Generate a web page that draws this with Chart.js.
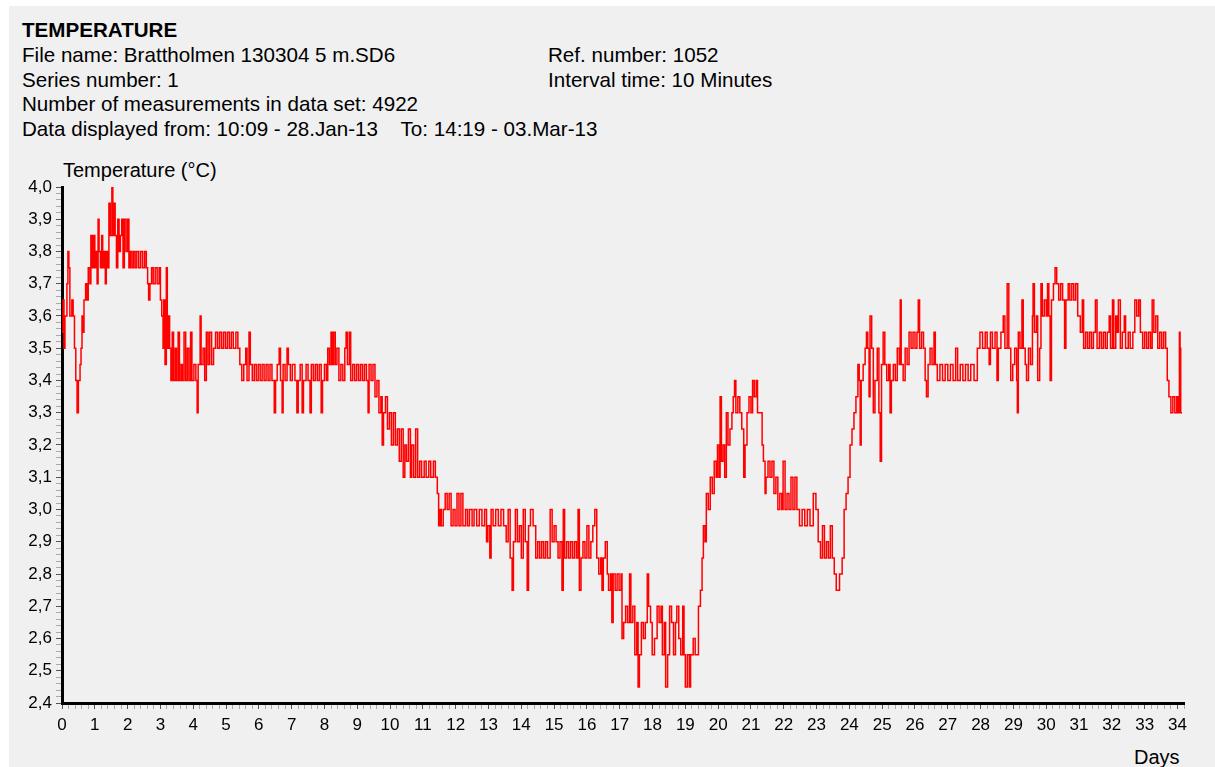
<!DOCTYPE html>
<html>
<head>
<meta charset="utf-8">
<title>Temperature</title>
<script src="https://cdn.jsdelivr.net/npm/chart.js@4.4.1/dist/chart.umd.min.js"></script>
<style>
    body { margin: 0; background: #fff; font-family: "Liberation Sans", Arial, sans-serif; }
    #panel { position: absolute; left: 9px; top: 6px; width: 1206px; height: 761px; background: #f0f0f0; }
    #wrap { position: absolute; left: 0; top: 0; width: 1215px; height: 767px; }
    .txt { position: absolute; font-size: 20.6px; line-height: 1; color: #000; white-space: nowrap; }
</style>
</head>
<body>
<div id="panel"></div>
<div class="txt" style="left:22px;top:20px;font-weight:bold;">TEMPERATURE</div>
<div class="txt" style="left:22px;top:45px;">File name: Brattholmen 130304 5 m.SD6</div>
<div class="txt" style="left:548px;top:45px;">Ref. number: 1052</div>
<div class="txt" style="left:22px;top:70px;">Series number: 1</div>
<div class="txt" style="left:548px;top:70px;">Interval time: 10 Minutes</div>
<div class="txt" style="left:22px;top:94px;">Number of measurements in data set: 4922</div>
<div class="txt" style="left:22px;top:119px;">Data displayed from: 10:09 - 28.Jan-13&nbsp;&nbsp;&nbsp; To: 14:19 - 03.Mar-13</div>
<div class="txt" style="left:63px;top:160px;font-size:20px;">Temperature (°C)</div>
<div class="txt" style="left:1134px;top:747px;font-size:20px;">Days</div>
<div id="wrap"><canvas id="tempPlot" width="1215" height="767"></canvas></div>

<script>
// Days since start of logging
var days = [
    0.00, 0.03, 0.06, 0.09, 0.15, 0.18, 0.21, 0.24, 0.30, 0.34,
    0.38, 0.42, 0.46, 0.50, 0.55, 0.58, 0.61, 0.64, 0.67, 0.72,
    0.76, 0.80, 0.85, 0.88, 0.92, 0.96, 1.00, 1.04, 1.07, 1.10,
    1.13, 1.17, 1.21, 1.24, 1.28, 1.32, 1.35, 1.39, 1.43, 1.47,
    1.52, 1.55, 1.59, 1.62, 1.66, 1.70, 1.74, 1.78, 1.82, 1.86,
    1.90, 1.95, 2.00, 2.04, 2.08, 2.13, 2.18, 2.23, 2.28, 2.34,
    2.40, 2.46, 2.52, 2.57, 2.61, 2.64, 2.68, 2.73, 2.78, 2.84,
    2.90, 2.96, 3.00, 3.04, 3.08, 3.10, 3.14, 3.18, 3.21, 3.25,
    3.28, 3.32, 3.36, 3.40, 3.45, 3.49, 3.54, 3.58, 3.63, 3.67,
    3.72, 3.77, 3.82, 3.87, 3.92, 3.96, 4.02, 4.08, 4.12, 4.15,
    4.21, 4.24, 4.30, 4.35, 4.40, 4.45, 4.50, 4.56, 4.62, 4.68,
    4.74, 4.80, 4.86, 4.92, 4.98, 5.04, 5.10, 5.16, 5.22, 5.30,
    5.36, 5.42, 5.48, 5.54, 5.60, 5.64, 5.70, 5.74, 5.80, 5.86,
    5.92, 5.98, 6.04, 6.10, 6.16, 6.22, 6.28, 6.34, 6.40, 6.47,
    6.51, 6.56, 6.62, 6.66, 6.71, 6.74, 6.80, 6.86, 6.90, 6.96,
    7.02, 7.10, 7.16, 7.20, 7.26, 7.32, 7.36, 7.44, 7.50, 7.56,
    7.60, 7.66, 7.72, 7.78, 7.84, 7.90, 7.94, 8.00, 8.06, 8.10,
    8.15, 8.20, 8.24, 8.28, 8.33, 8.38, 8.44, 8.50, 8.56, 8.62,
    8.66, 8.70, 8.76, 8.80, 8.86, 8.92, 8.98, 9.04, 9.10, 9.16,
    9.22, 9.28, 9.33, 9.36, 9.42, 9.48, 9.54, 9.60, 9.66, 9.72,
    9.76, 9.80, 9.86, 9.92, 9.98, 10.04, 10.10, 10.16, 10.22, 10.28,
    10.34, 10.40, 10.45, 10.50, 10.56, 10.62, 10.66, 10.72, 10.78, 10.84,
    10.90, 10.96, 11.04, 11.10, 11.18, 11.24, 11.32, 11.38, 11.44, 11.48,
    11.52, 11.56, 11.62, 11.68, 11.74, 11.80, 11.86, 11.92, 11.98, 12.04,
    12.10, 12.16, 12.22, 12.30, 12.36, 12.42, 12.50, 12.56, 12.64, 12.72,
    12.80, 12.88, 12.94, 12.98, 13.04, 13.08, 13.14, 13.22, 13.30, 13.38,
    13.46, 13.54, 13.60, 13.66, 13.72, 13.76, 13.82, 13.88, 13.94, 14.00,
    14.06, 14.12, 14.18, 14.22, 14.28, 14.36, 14.44, 14.50, 14.56, 14.62,
    14.68, 14.74, 14.80, 14.88, 14.94, 15.00, 15.06, 15.12, 15.18, 15.24,
    15.28, 15.32, 15.38, 15.44, 15.50, 15.56, 15.62, 15.68, 15.73, 15.77,
    15.82, 15.88, 15.94, 16.00, 16.06, 16.12, 16.18, 16.24, 16.30, 16.36,
    16.42, 16.46, 16.50, 16.56, 16.62, 16.66, 16.72, 16.76, 16.80, 16.86,
    16.92, 16.98, 17.04, 17.07, 17.12, 17.18, 17.24, 17.30, 17.34, 17.40,
    17.46, 17.52, 17.56, 17.60, 17.66, 17.72, 17.78, 17.84, 17.88, 17.94,
    17.99, 18.06, 18.14, 18.20, 18.26, 18.30, 18.36, 18.40, 18.46, 18.52,
    18.58, 18.64, 18.70, 18.74, 18.80, 18.86, 18.92, 18.96, 19.00, 19.06,
    19.12, 19.16, 19.24, 19.30, 19.40, 19.46, 19.51, 19.55, 19.60, 19.64,
    19.70, 19.76, 19.82, 19.88, 19.94, 19.98, 20.03, 20.06, 20.10, 20.15,
    20.20, 20.25, 20.30, 20.36, 20.42, 20.46, 20.50, 20.54, 20.60, 20.66,
    20.72, 20.78, 20.82, 20.88, 20.94, 21.00, 21.05, 21.10, 21.16, 21.20,
    21.28, 21.34, 21.38, 21.43, 21.46, 21.52, 21.58, 21.64, 21.70, 21.76,
    21.82, 21.88, 21.94, 21.98, 22.04, 22.10, 22.16, 22.22, 22.28, 22.34,
    22.40, 22.48, 22.56, 22.64, 22.72, 22.80, 22.90, 22.98, 23.05, 23.12,
    23.18, 23.24, 23.30, 23.36, 23.42, 23.48, 23.54, 23.60, 23.70, 23.78,
    23.84, 23.90, 23.96, 24.02, 24.08, 24.14, 24.20, 24.26, 24.30, 24.33,
    24.36, 24.42, 24.48, 24.52, 24.56, 24.60, 24.63, 24.68, 24.73, 24.78,
    24.85, 24.90, 24.94, 24.98, 25.03, 25.08, 25.14, 25.20, 25.24, 25.28,
    25.34, 25.40, 25.46, 25.52, 25.55, 25.58, 25.64, 25.70, 25.76, 25.82,
    25.88, 25.94, 26.00, 26.06, 26.10, 26.14, 26.20, 26.26, 26.31, 26.35,
    26.40, 26.46, 26.52, 26.58, 26.62, 26.68, 26.76, 26.84, 26.92, 27.00,
    27.08, 27.16, 27.24, 27.30, 27.38, 27.46, 27.54, 27.62, 27.70, 27.80,
    27.90, 27.98, 28.06, 28.14, 28.20, 28.26, 28.30, 28.36, 28.44, 28.50,
    28.54, 28.62, 28.69, 28.74, 28.81, 28.86, 28.92, 28.98, 29.04, 29.10,
    29.12, 29.15, 29.20, 29.26, 29.30, 29.36, 29.40, 29.46, 29.52, 29.58,
    29.60, 29.64, 29.70, 29.74, 29.80, 29.84, 29.88, 29.94, 30.00, 30.04,
    30.08, 30.12, 30.16, 30.22, 30.27, 30.32, 30.38, 30.44, 30.50, 30.56,
    30.60, 30.67, 30.72, 30.78, 30.84, 30.90, 30.96, 31.04, 31.10, 31.14,
    31.20, 31.26, 31.32, 31.38, 31.44, 31.50, 31.55, 31.62, 31.68, 31.74,
    31.80, 31.86, 31.92, 31.96, 32.02, 32.06, 32.12, 32.16, 32.20, 32.26,
    32.32, 32.38, 32.42, 32.50, 32.56, 32.64, 32.70, 32.76, 32.82, 32.87,
    32.94, 33.00, 33.06, 33.12, 33.18, 33.23, 33.28, 33.34, 33.40, 33.46,
    33.52, 33.58, 33.64, 33.69, 33.74, 33.80, 33.86, 33.92, 33.98, 34.02,
    34.06, 34.08, 34.10, 34.14
];

// Temperature readings (°C), one per entry in days
var temps = [
    3.55, 3.65, 3.5, 3.6, 3.7, 3.8, 3.75, 3.6, 3.65, 3.6,
    3.5, 3.4, 3.3, 3.4, 3.45, 3.5, 3.6, 3.55, 3.65, 3.7,
    3.65, 3.75, 3.7, 3.85, 3.75, 3.85, 3.75, 3.8, 3.7, 3.9,
    3.8, 3.75, 3.85, 3.75, 3.8, 3.7, 3.8, 3.75, 3.95, 3.85,
    4.0, 3.85, 3.95, 3.85, 3.75, 3.9, 3.8, 3.85, 3.9, 3.75,
    3.9, 3.8, 3.9, 3.75, 3.8, 3.75, 3.8, 3.75, 3.8, 3.75,
    3.8, 3.75, 3.8, 3.75, 3.7, 3.65, 3.7, 3.75, 3.7, 3.75,
    3.7, 3.75, 3.65, 3.6, 3.5, 3.65, 3.45, 3.75, 3.5, 3.6,
    3.5, 3.4, 3.55, 3.4, 3.5, 3.4, 3.55, 3.4, 3.45, 3.4,
    3.55, 3.4, 3.5, 3.4, 3.55, 3.4, 3.45, 3.4, 3.3, 3.45,
    3.6, 3.45, 3.5, 3.4, 3.55, 3.45, 3.55, 3.45, 3.5, 3.55,
    3.5, 3.55, 3.5, 3.55, 3.5, 3.55, 3.5, 3.55, 3.5, 3.55,
    3.5, 3.45, 3.4, 3.45, 3.5, 3.4, 3.55, 3.45, 3.4, 3.45,
    3.4, 3.45, 3.4, 3.45, 3.4, 3.45, 3.4, 3.45, 3.4, 3.3,
    3.4, 3.45, 3.5, 3.4, 3.3, 3.45, 3.4, 3.5, 3.45, 3.4,
    3.45, 3.4, 3.3, 3.4, 3.45, 3.3, 3.4, 3.45, 3.4, 3.3,
    3.45, 3.4, 3.45, 3.4, 3.45, 3.3, 3.4, 3.45, 3.4, 3.5,
    3.45, 3.55, 3.45, 3.55, 3.45, 3.5, 3.4, 3.45, 3.4, 3.5,
    3.55, 3.45, 3.55, 3.4, 3.45, 3.4, 3.45, 3.4, 3.45, 3.4,
    3.45, 3.4, 3.3, 3.45, 3.4, 3.45, 3.35, 3.4, 3.3, 3.35,
    3.2, 3.3, 3.35, 3.25, 3.3, 3.2, 3.3, 3.2, 3.25, 3.15,
    3.25, 3.1, 3.2, 3.15, 3.25, 3.1, 3.2, 3.1, 3.25, 3.1,
    3.15, 3.1, 3.15, 3.1, 3.15, 3.1, 3.15, 3.1, 3.05, 2.95,
    3.0, 2.95, 3.0, 3.05, 3.0, 3.05, 2.95, 3.0, 2.95, 3.05,
    2.95, 3.05, 2.95, 3.0, 2.95, 3.0, 2.95, 3.0, 2.95, 3.0,
    2.95, 3.0, 2.9, 2.95, 2.85, 3.0, 2.95, 3.0, 2.95, 3.0,
    2.95, 2.9, 3.0, 2.85, 2.75, 2.9, 3.0, 2.9, 2.95, 2.85,
    3.0, 2.9, 2.75, 2.95, 3.0, 2.95, 2.85, 2.9, 2.85, 2.9,
    2.85, 2.9, 2.85, 3.0, 2.9, 2.95, 2.9, 2.85, 2.9, 2.75,
    3.0, 2.85, 2.9, 2.85, 2.9, 2.85, 2.9, 2.85, 3.0, 2.75,
    2.85, 2.9, 2.85, 2.95, 2.85, 2.9, 2.95, 3.0, 2.85, 2.8,
    2.85, 2.75, 2.85, 2.9, 2.8, 2.75, 2.8, 2.65, 2.8, 2.75,
    2.8, 2.75, 2.8, 2.6, 2.65, 2.7, 2.65, 2.8, 2.65, 2.7,
    2.55, 2.65, 2.45, 2.55, 2.65, 2.6, 2.65, 2.8, 2.7, 2.65,
    2.55, 2.6, 2.7, 2.65, 2.7, 2.55, 2.65, 2.45, 2.55, 2.7,
    2.65, 2.55, 2.65, 2.7, 2.6, 2.55, 2.7, 2.55, 2.45, 2.55,
    2.45, 2.55, 2.6, 2.55, 2.7, 2.75, 2.85, 2.95, 2.9, 3.05,
    3.0, 3.1, 3.05, 3.15, 3.1, 3.2, 3.1, 3.35, 3.15, 3.2,
    3.1, 3.3, 3.2, 3.25, 3.3, 3.35, 3.4, 3.3, 3.35, 3.3,
    3.25, 3.1, 3.2, 3.3, 3.35, 3.3, 3.4, 3.35, 3.4, 3.3,
    3.3, 3.2, 3.15, 3.05, 3.1, 3.15, 3.1, 3.15, 3.05, 3.1,
    3.0, 3.05, 3.0, 3.15, 3.0, 3.05, 3.0, 3.1, 3.0, 3.1,
    3.0, 2.95, 3.0, 2.95, 3.0, 2.95, 3.05, 3.0, 2.9, 2.85,
    2.95, 2.85, 2.9, 2.85, 2.95, 2.85, 2.8, 2.75, 2.8, 2.85,
    3.0, 3.05, 3.1, 3.2, 3.25, 3.3, 3.35, 3.45, 3.4, 3.2,
    3.4, 3.45, 3.5, 3.55, 3.5, 3.35, 3.6, 3.5, 3.3, 3.4,
    3.5, 3.3, 3.15, 3.45, 3.55, 3.45, 3.4, 3.45, 3.3, 3.4,
    3.45, 3.4, 3.5, 3.45, 3.65, 3.45, 3.4, 3.5, 3.45, 3.55,
    3.5, 3.55, 3.5, 3.55, 3.65, 3.5, 3.55, 3.5, 3.4, 3.35,
    3.45, 3.5, 3.45, 3.55, 3.45, 3.4, 3.45, 3.4, 3.45, 3.4,
    3.45, 3.4, 3.5, 3.4, 3.45, 3.4, 3.45, 3.4, 3.45, 3.4,
    3.5, 3.55, 3.5, 3.55, 3.5, 3.45, 3.55, 3.5, 3.55, 3.4,
    3.5, 3.55, 3.6, 3.5, 3.7, 3.5, 3.4, 3.45, 3.5, 3.4,
    3.3, 3.55, 3.5, 3.65, 3.5, 3.45, 3.4, 3.5, 3.45, 3.6,
    3.7, 3.55, 3.6, 3.4, 3.5, 3.7, 3.6, 3.65, 3.6, 3.7,
    3.6, 3.4, 3.65, 3.7, 3.75, 3.7, 3.65, 3.7, 3.65, 3.5,
    3.65, 3.7, 3.65, 3.7, 3.65, 3.7, 3.6, 3.55, 3.65, 3.5,
    3.55, 3.5, 3.55, 3.5, 3.55, 3.65, 3.5, 3.55, 3.5, 3.55,
    3.5, 3.55, 3.6, 3.5, 3.65, 3.5, 3.6, 3.55, 3.65, 3.5,
    3.55, 3.6, 3.5, 3.55, 3.5, 3.55, 3.65, 3.6, 3.65, 3.55,
    3.5, 3.55, 3.5, 3.55, 3.5, 3.65, 3.55, 3.6, 3.5, 3.55,
    3.5, 3.55, 3.5, 3.4, 3.35, 3.3, 3.35, 3.3, 3.35, 3.3,
    3.55, 3.5, 3.3, 3.3
];

var yMin = 2.4, yMax = 4.0, yMinorStep = 0.02;
var xMin = 0, xMax = 34.2, xMinorStep = 0.2;

function _isTenth(v) {
    return Math.round(v * 100) % 10 === 0;
}

function _isWholeDay(v) {
    return Math.round(v * 10) % 10 === 0;
}

var points = [];
for (var i = 0; i < days.length; i++) {
    points.push({x: days[i], y: temps[i]});
}

var tickFont = {family: '"Liberation Sans", Arial, sans-serif', size: 17};

new Chart(document.getElementById("tempPlot"), {
    type: "line",
    data: {
        datasets: [{
            label: 'Temperature',
            data: points,
            borderColor: '#ff0000',
            borderWidth: 1.5,
            pointRadius: 0,
            stepped: true,
            fill: false
        }]
    },
    options: {
        responsive: false,
        animation: false,
        layout: {
            padding: {left: 12, top: 187, right: 31, bottom: 14}
        },
        plugins: {
            legend: {display: false},
            tooltip: {enabled: false}
        },
        scales: {
            x: {
                type: 'linear',
                min: xMin,
                max: xMax,
                afterFit: function(scale) { scale.height = 50; },
                border: {display: true, color: '#000', width: 3},
                grid: {
                    drawOnChartArea: false,
                    tickLength: 6,
                    tickColor: function(ctx) { return _isWholeDay(ctx.tick.value) ? '#555' : '#aaa'; }
                },
                ticks: {
                    stepSize: xMinorStep,
                    autoSkip: false,
                    maxRotation: 0,
                    padding: 6,
                    color: '#000',
                    font: tickFont,
                    callback: function(v) { return _isWholeDay(v) ? String(Math.round(v)) : ''; }
                }
            },
            y: {
                type: 'linear',
                min: yMin,
                max: yMax,
                afterFit: function(scale) { scale.width = 50; },
                border: {display: true, color: '#000', width: 3},
                grid: {
                    drawOnChartArea: false,
                    tickLength: 6,
                    tickColor: function(ctx) { return _isTenth(ctx.tick.value) ? '#555' : '#aaa'; }
                },
                ticks: {
                    stepSize: yMinorStep,
                    autoSkip: false,
                    padding: 4,
                    color: '#000',
                    font: tickFont,
                    callback: function(v) { return _isTenth(v) ? v.toFixed(1).replace('.', ',') : ''; }
                }
            }
        }
    }
});
</script>
</body>
</html>
